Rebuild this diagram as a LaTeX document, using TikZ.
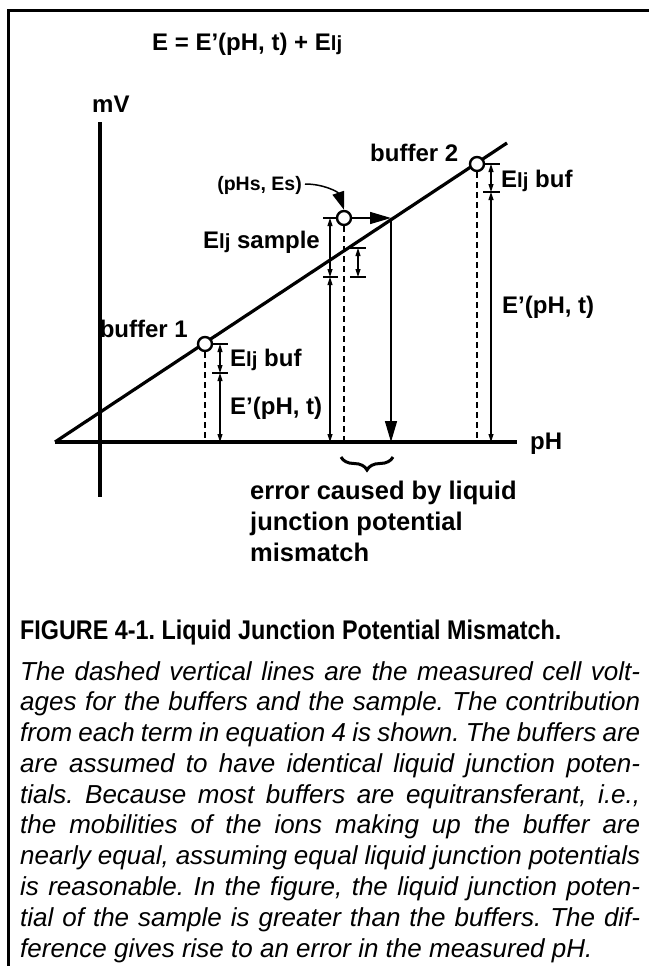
\documentclass[tikz,border=0pt]{standalone}
\usepackage{fontspec}
\setmainfont{Liberation Sans}
\usetikzlibrary{arrows.meta,decorations.pathreplacing}
\newcommand{\Elj}{E\scalebox{0.85}{lj}}
\newcommand{\bodyline}[1]{\makebox[620pt][s]{#1}}
\frenchspacing
\begin{document}
\begin{tikzpicture}[x=1pt,y=-1pt,
  axis/.style={line width=3.2pt},
  frame/.style={line width=3pt},
  tick/.style={line width=1.1pt},
  dim/.style={line width=1.1pt,{Triangle[length=8pt,width=5pt]}-{Triangle[length=8pt,width=5pt]}},
  meas/.style={line width=1.3pt,dash pattern=on 6pt off 4pt},
  big/.style={line width=1.5pt,-{Triangle[length=21pt,width=12pt]}},
  pt/.style={circle,draw,fill=white,line width=2.4pt,minimum size=14pt,inner sep=0pt},
  lbl/.style={font=\fontsize{24}{28}\selectfont\bfseries,inner sep=0pt},
  elbl/.style={font=\fontsize{25.5}{30}\selectfont\bfseries,inner sep=0pt,anchor=base west},
  slbl/.style={font=\fontsize{19.5}{22}\selectfont\bfseries,inner sep=0pt},
  body/.style={font=\fontsize{26}{30}\selectfont\itshape,inner sep=0pt,anchor=base west}
]
\useasboundingbox (0,0) rectangle (649,966);
% frame
\coordinate (fbl) at (8,966);
\coordinate (ftl) at (8,11);
\coordinate (ftr) at (649,11);
\draw[frame] (fbl) -- (ftl) -- (ftr);

% equation and axis labels
\node[lbl,anchor=base west] (eq) at (152,51) {E = E’(pH, t) + \Elj};
\node[lbl,anchor=base west] (mv) at (92,112) {mV};
\node[lbl,anchor=base west] (ph) at (530,449) {pH};

% axes
\coordinate (ytop) at (100,122);
\coordinate (ybot) at (100,497);
\coordinate (xl) at (55,442);
\coordinate (xr) at (517,442);
\coordinate (ctop) at (507,143);
\draw[axis] (ytop) -- (ybot);
\draw[axis] (xl) -- (xr);
\draw[axis] (xl) -- (ctop);

% buffer 1
\coordinate (b1base) at (205,442);
\coordinate (t1a) at (212,344); \coordinate (t1b) at (228,344);
\coordinate (t1c) at (212,373); \coordinate (t1d) at (228,373);
\coordinate (a1t) at (220,344); \coordinate (a1m) at (220,373); \coordinate (a1b) at (220,442);
\draw[tick] (t1a) -- (t1b);
\draw[tick] (t1c) -- (t1d);
\draw[dim] (a1t) -- (a1m);
\draw[dim] (a1m) -- (a1b);
\node[pt] (b1) at (205,344) {};
\draw[meas] (b1.south) -- (b1base);
\node[lbl,anchor=base east] (b1l) at (188,337) {buffer 1};
\node[lbl,anchor=base west] (b1e) at (230,366) {\Elj{} buf};
\node[lbl,anchor=base west] (b1p) at (230,414) {E’(pH, t)};

% buffer 2
\coordinate (b2base) at (477,442);
\coordinate (t2a) at (483,164); \coordinate (t2b) at (500,164);
\coordinate (t2c) at (483,192); \coordinate (t2d) at (500,192);
\coordinate (a2t) at (491,164); \coordinate (a2m) at (491,192); \coordinate (a2b) at (491,442);
\draw[tick] (t2a) -- (t2b);
\draw[tick] (t2c) -- (t2d);
\draw[dim] (a2t) -- (a2m);
\draw[dim] (a2m) -- (a2b);
\node[pt] (b2) at (477,164) {};
\draw[meas] (b2.south) -- (b2base);
\node[lbl,anchor=base west] (b2l) at (370,161) {buffer 2};
\node[lbl,anchor=base west] (b2e) at (501,187) {\Elj{} buf};
\node[lbl,anchor=base west] (b2p) at (502,313) {E’(pH, t)};

% sample
\coordinate (sbase) at (344,442);
\coordinate (tsa) at (323,218); \coordinate (tsb) at (338,218);
\coordinate (tsc) at (323,277); \coordinate (tsd) at (338,277);
\coordinate (ast) at (330,218); \coordinate (asm) at (330,277); \coordinate (asb) at (330,442);
\coordinate (tqa) at (350,248); \coordinate (tqb) at (366,248);
\coordinate (tqc) at (350,277); \coordinate (tqd) at (366,277);
\coordinate (aqt) at (358,248); \coordinate (aqb) at (358,277);
\draw[tick] (tsa) -- (tsb);
\draw[tick] (tsc) -- (tsd);
\draw[tick] (tqa) -- (tqb);
\draw[tick] (tqc) -- (tqd);
\draw[dim] (ast) -- (asm);
\draw[dim] (asm) -- (asb);
\draw[dim] (aqt) -- (aqb);
\node[pt] (s) at (344,218) {};
\draw[meas] (s.south) -- (sbase);
\coordinate (hit) at (391,218);
\coordinate (hitb) at (391,442);
\draw[big] (s.east) -- (hit);
\draw[big] (hit) -- (hitb);
\node[lbl,anchor=base east] (sl) at (320,248) {\Elj{} sample};
\node[slbl,anchor=base east] (pl) at (302,190) {(pHs, Es)};
\coordinate (plc) at (305,184);
\draw[line width=1.5pt,-{Triangle[length=18pt,width=12pt]}] (plc) .. controls (324,184) and (338,192) .. (s.north);

% brace and error text
\coordinate (br1) at (393,457);
\coordinate (br2) at (341,457);
\draw[line width=3pt,decorate,decoration={brace,amplitude=13pt}] (br1) -- (br2);
\node[elbl] (e1) at (250,499) {error caused by liquid};
\node[elbl] (e2) at (250,530) {junction potential};
\node[elbl] (e3) at (250,561) {mismatch};

% caption
\node[inner sep=0pt,anchor=base west,font=\fontsize{27}{30}\selectfont\bfseries] (cap) at (20,639)
  {\scalebox{0.865}[1]{FIGURE 4-1. Liquid Junction Potential Mismatch.}};
\node[body] (l1) at (20,680.0) {\bodyline{The dashed vertical lines are the measured cell volt-}};
\node[body] (l2) at (20,710.8) {\bodyline{ages for the buffers and the sample. The contribution}};
\node[body] (l3) at (20,741.6) {\bodyline{from each term in equation 4 is shown. The buffers are}};
\node[body] (l4) at (20,772.3) {\bodyline{are assumed to have identical liquid junction poten-}};
\node[body] (l5) at (20,803.1) {\bodyline{tials. Because most buffers are equitransferant, i.e.,}};
\node[body] (l6) at (20,833.9) {\bodyline{the mobilities of the ions making up the buffer are}};
\node[body] (l7) at (20,864.7) {\bodyline{nearly equal, assuming equal liquid junction potentials}};
\node[body] (l8) at (20,895.4) {\bodyline{is reasonable. In the figure, the liquid junction poten-}};
\node[body] (l9) at (20,926.2) {\bodyline{tial of the sample is greater than the buffers. The dif-}};
\node[body] (l10) at (20,957.0) {ference gives rise to an error in the measured pH.};
\end{tikzpicture}
\end{document}
